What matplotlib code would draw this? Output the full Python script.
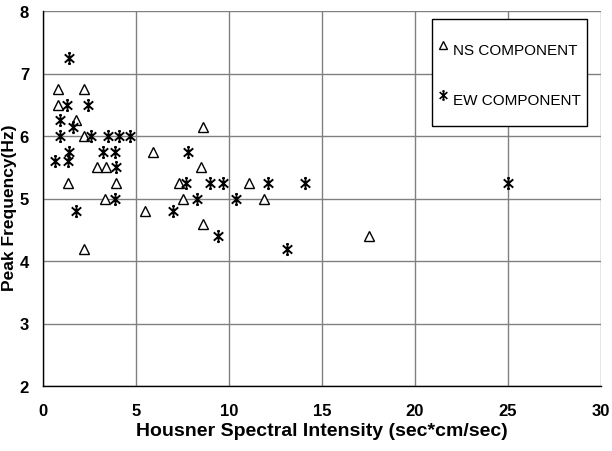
import matplotlib
matplotlib.use("Agg")
import matplotlib.pyplot as plt
from matplotlib.path import Path
from matplotlib.patches import Rectangle
from matplotlib.lines import Line2D

plt.rcParams['font.family'] = ['Liberation Sans', 'DejaVu Sans']

# NS component: (SI, peak frequency)
ns_si = [0.8, 2.2, 0.8, 1.8, 2.2, 2.9, 3.4, 3.9, 1.35, 3.35, 2.2,
         5.9, 8.6, 8.5, 7.3, 7.5, 5.5, 8.6, 11.1, 11.9, 17.5]
ns_freq = [6.75, 6.75, 6.5, 6.25, 6.0, 5.5, 5.5, 5.25, 5.25, 5.0, 4.2,
           5.75, 6.15, 5.5, 5.25, 5.0, 4.8, 4.6, 5.25, 5.0, 4.4]

# EW component
ew_si = [1.4, 1.3, 2.4, 0.9, 1.6, 0.9, 2.6, 3.5, 4.1, 4.7, 1.4, 0.65,
         1.35, 3.25, 3.85, 3.9, 3.85, 1.8, 7.8, 7.7, 9.0, 9.7, 8.3, 7.0,
         9.4, 12.1, 14.1, 10.4, 13.1, 25.0]
ew_freq = [7.25, 6.5, 6.5, 6.25, 6.15, 6.0, 6.0, 6.0, 6.0, 6.0, 5.75, 5.6,
           5.6, 5.75, 5.75, 5.5, 5.0, 4.8, 5.75, 5.25, 5.25, 5.25, 5.0, 4.8,
           4.4, 5.25, 5.25, 5.0, 4.2, 5.25]

x_ticks = [0, 5, 10, 15, 20, 25, 30]
y_ticks = [2, 3, 4, 5, 6, 7, 8]
labels = ["NS COMPONENT", "EW COMPONENT"]

# asterisk marker: vertical bar, X, and tiny caps
star_verts = [(0, -1), (0, 1),
              (-0.85, -0.75), (0.85, 0.75),
              (-0.85, 0.75), (0.85, -0.75),
              (-0.22, 1), (0.22, 1),
              (-0.22, -1), (0.22, -1)]
star_codes = [Path.MOVETO, Path.LINETO] * 5
star = Path(star_verts, star_codes)

W, H = 612, 452
fig = plt.figure(figsize=(W / 100, H / 100), dpi=100)
ax = fig.add_axes([43 / W, 1 - 387 / H, (601 - 43) / W, (387 - 12) / H])

ax.set_xlim(0, 30)
ax.set_ylim(2, 8)
ax.set_xticks(x_ticks)
ax.set_yticks(y_ticks)
ax.grid(True, color='#808080', linewidth=1.0)
ax.set_axisbelow(True)
for s in ['top', 'right']:
    ax.spines[s].set_visible(False)
for s in ['left', 'bottom']:
    ax.spines[s].set_color('black')
    ax.spines[s].set_linewidth(1.0)
ax.tick_params(length=0, labelsize=12)
ax.tick_params(axis='x', pad=12)
ax.tick_params(axis='y', pad=10)
for lab in ax.get_xticklabels() + ax.get_yticklabels():
    lab.set_fontweight('bold')

ax.plot(ns_si, ns_freq, linestyle='none', marker='^', markersize=7,
        markerfacecolor='white', markeredgecolor='black', markeredgewidth=1.0,
        clip_on=False)
ax.plot(ew_si, ew_freq, linestyle='none', marker=star, markersize=8,
        markeredgecolor='black', markerfacecolor='none', markeredgewidth=1.4,
        clip_on=False)

ax.set_xlabel("Housner Spectral Intensity (sec*cm/sec)", fontsize=14,
              fontweight='bold', labelpad=3)
fig.text(10 / W, 1 - 208 / H, "Peak Frequency(Hz)", rotation=90,
         fontsize=12.5, fontweight='bold', ha='center', va='center')

# legend box
def fx(px):
    return px / W

def fy(py):
    return 1 - py / H

fig.add_artist(Rectangle((fx(432), fy(127)), fx(587) - fx(432), fy(20) - fy(127),
                         transform=fig.transFigure, facecolor='white',
                         edgecolor='black', linewidth=1.0, zorder=5))
fig.add_artist(Line2D([fx(443)], [fy(46)], marker='^', markersize=6,
                      markerfacecolor='white', markeredgecolor='black',
                      markeredgewidth=1.0, linestyle='none',
                      transform=fig.transFigure, zorder=6))
fig.add_artist(Line2D([fx(443)], [fy(96)], marker=star, markersize=6.5,
                      markerfacecolor='none', markeredgecolor='black',
                      markeredgewidth=1.2, linestyle='none',
                      transform=fig.transFigure, zorder=6))
fig.text(fx(453), fy(51), labels[0], fontsize=11, va='center', ha='left', zorder=6)
fig.text(fx(453), fy(101), labels[1], fontsize=11, va='center', ha='left', zorder=6)

fig.savefig("out.png", dpi=100)
